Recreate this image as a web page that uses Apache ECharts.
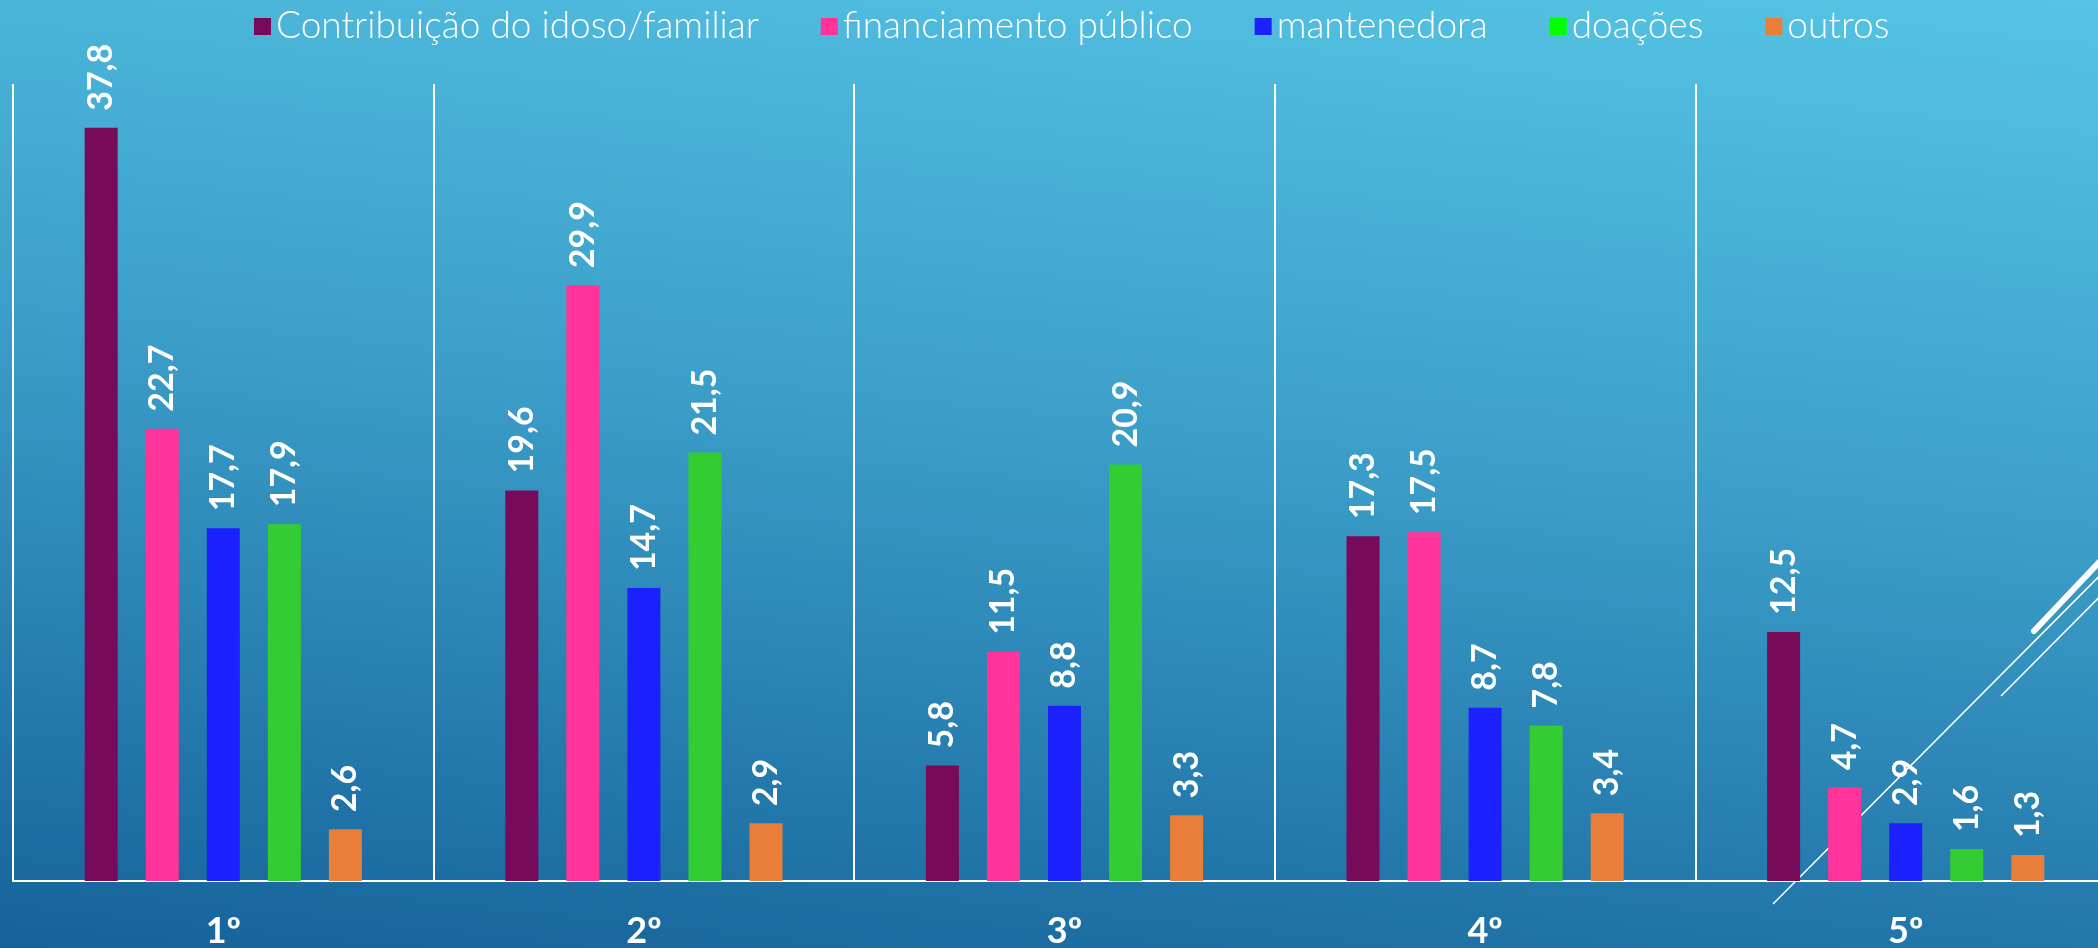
<!DOCTYPE html>
<html>
<head>
<meta charset="utf-8">
<script src="https://cdn.jsdelivr.net/npm/echarts@6/dist/echarts.min.js"></script>
<style>
  html, body { margin: 0; padding: 0; }
  #main {
    width: 2098px; height: 948px;
    background: linear-gradient(186deg, #55c4e4 0%, #3c9fc9 45%, #15629a 100%);
  }
</style>
</head>
<body>
<div id="main"></div>
<script>
// categorias (quintis)
const categorias = ['1º', '2º', '3º', '4º', '5º'];

// fontes de financiamento (%)
const contribuicao = [37.8, 19.6, 5.8, 17.3, 12.5];
const financiamento = [22.7, 29.9, 11.5, 17.5, 4.7];
const mantenedora = [17.7, 14.7, 8.8, 8.7, 2.9];
const doacoes = [17.9, 21.5, 20.9, 7.8, 1.6];
const outros = [2.6, 2.9, 3.3, 3.4, 1.3];

const nomes = ['Contribuição do idoso/familiar', 'financiamento público', 'mantenedora', 'doações', 'outros'];
const cores = ['#780a5a', '#ff3399', '#1c22ff', '#33cc33', '#e97e3a'];

const fonte = 'Lato, "DejaVu Sans", sans-serif';

let chart = echarts.init(document.getElementById('main'));

const serie = (nome, dados, cor) => ({
  name: nome,
  type: 'bar',
  barWidth: 33,
  barGap: '85%',
  itemStyle: { color: cor },
  label: {
    show: true,
    position: 'top',
    rotate: 90,
    align: 'left',
    verticalAlign: 'middle',
    distance: 17,
    color: '#fff',
    fontSize: 34,
    fontWeight: 'bold',
    fontFamily: fonte,
    formatter: p => String(p.value).replace('.', ',')
  },
  data: dados
});

chart.setOption({
  animation: false,
  backgroundColor: 'transparent',
  legend: {
    top: 8,
    left: 254,
    padding: 0,
    itemWidth: 17,
    itemHeight: 17,
    itemGap: 62,
    icon: 'rect',
    textStyle: {
      color: '#fff',
      fontSize: 37,
      fontWeight: 300,
      fontFamily: fonte
    },
    data: [
      { name: nomes[0] },
      { name: nomes[1] },
      { name: nomes[2] },
      { name: nomes[3], itemStyle: { color: '#00ff00' } },
      { name: nomes[4] }
    ]
  },
  grid: {
    left: 13,
    width: 2103,
    top: 84,
    bottom: 67,
    containLabel: false,
    outerBoundsMode: 'none'
  },
  xAxis: {
    type: 'category',
    data: categorias,
    axisLine: { lineStyle: { color: '#fff', width: 2 } },
    axisTick: { show: false },
    splitLine: { show: true, lineStyle: { color: '#fff', width: 2 } },
    axisLabel: {
      color: '#fff',
      fontSize: 36,
      fontWeight: 'bold',
      fontFamily: fonte,
      margin: 32
    }
  },
  yAxis: {
    type: 'value',
    min: 0,
    max: 40,
    show: false,
    splitLine: { show: false }
  },
  graphic: [
    { type: 'line', silent: true, shape: { x1: 1773, y1: 904, x2: 2160, y2: 515 },
      style: { stroke: '#fff', lineWidth: 1.6 } },
    { type: 'line', silent: true, shape: { x1: 2001, y1: 696, x2: 2160, y2: 536 },
      style: { stroke: '#fff', lineWidth: 1.6 } },
    { type: 'line', silent: true, shape: { x1: 2034, y1: 631, x2: 2160, y2: 498 },
      style: { stroke: '#fff', lineWidth: 6, lineCap: 'round' } }
  ],
  series: [
    serie(nomes[0], contribuicao, cores[0]),
    serie(nomes[1], financiamento, cores[1]),
    serie(nomes[2], mantenedora, cores[2]),
    serie(nomes[3], doacoes, cores[3]),
    serie(nomes[4], outros, cores[4])
  ]
});
</script>
</body>
</html>
